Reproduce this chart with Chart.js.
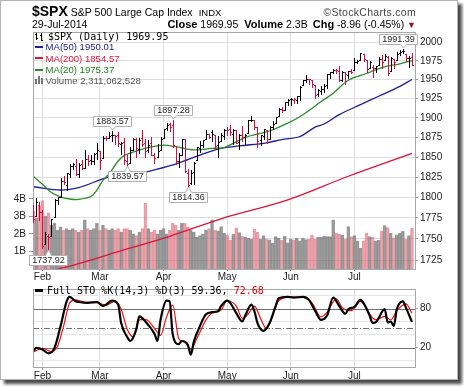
<!DOCTYPE html>
<html>
<head>
<meta charset="utf-8">
<script src="https://cdn.jsdelivr.net/npm/chart.js"></script>
<style>
  body { margin: 0; background: #fff; font-family: "Liberation Sans", Arial, sans-serif; }
  #frame { position: absolute; left: 0; top: 0; width: 456px; height: 378px; border: 1px solid #b4b4b4; box-shadow: 4px 4px 3px #4a4a4a; background: #fff; }
  canvas { position: absolute; left: 0; }
  #priceCanvas { top: 0; }
  #stoCanvas { top: 281px; }
  .txt { position: absolute; white-space: nowrap; color: #000; z-index: 5; }
  .mono { font-family: "DejaVu Sans Mono", monospace; font-size: 10px; line-height: 10px; }
  .leg { font-size: 9.6px; line-height: 9.6px; }
  .mark { position: absolute; z-index: 5; }
</style>
</head>
<body>
<div id="frame"></div>
<canvas id="priceCanvas" width="457" height="285"></canvas>
<canvas id="stoCanvas" width="457" height="99"></canvas>

<!-- header -->
<div class="txt" style="left:32px; top:3px; line-height:16px;">
  <span style="font-weight:bold; font-size:14px;">$SPX</span><span style="font-size:10.5px; margin-left:3px;">S&amp;P 500 Large Cap Index</span><span style="font-size:9.5px; margin-left:6px;">INDX</span>
</div>
<div class="txt" style="left:290px; width:126px; top:4px; text-align:right; font-size:10.5px; line-height:16px; color:#444; letter-spacing:0.3px;">&copy;StockCharts.com</div>
<div class="txt" id="dateTxt" style="left:32px; top:18px; font-size:10.5px; line-height:12px;"></div>
<div class="txt" style="left:140px; width:276px; top:18px; text-align:right; font-size:10.5px; line-height:12px;">
  <b style="font-size:11px;">Close</b> <span id="closeTxt"></span><b style="font-size:11px; margin-left:6px;">Volume</b> <span id="volTxt"></span><b style="font-size:11px; margin-left:5px;">Chg</b> <span id="chgTxt"></span> <span style="color:#8b1a1a; font-size:9px;">&#9660;</span>
</div>

<!-- price panel legend -->
<div class="mark" style="left:36px; top:33px; width:1px; height:7px; background:#000;"></div>
<div class="mark" style="left:35px; top:34px; width:1px; height:1px; background:#000;"></div>
<div class="mark" style="left:37px; top:38px; width:1px; height:1px; background:#000;"></div>
<div class="mark" style="left:41px; top:33px; width:1px; height:8px; background:#000;"></div>
<div class="mark" style="left:40px; top:35px; width:1px; height:1px; background:#000;"></div>
<div class="mark" style="left:42px; top:40px; width:1px; height:1px; background:#000;"></div>
<div class="txt mono" id="spxLeg" style="left:48px; top:31.7px;"></div>

<div class="mark" style="left:35px; top:46px; width:8px; height:2px; background:#1f1f99;"></div>
<div class="txt leg" id="ma50Leg" style="left:45.5px; top:42.3px; color:#1a1a8a;"></div>
<div class="mark" style="left:35px; top:57px; width:8px; height:2px; background:#dc143c;"></div>
<div class="txt leg" id="ma200Leg" style="left:45.5px; top:53.6px; color:#dc143c;"></div>
<div class="mark" style="left:35px; top:68.5px; width:8px; height:2px; background:#2a8c2a;"></div>
<div class="txt leg" id="ma20Leg" style="left:45.5px; top:64.8px; color:#1e7b1e;"></div>
<div class="mark" style="left:35px; top:79px; width:2px; height:5px; background:#777;"></div>
<div class="mark" style="left:38px; top:76px; width:2px; height:8px; background:#777;"></div>
<div class="mark" style="left:41px; top:78px; width:2px; height:6px; background:#777;"></div>
<div class="txt leg" id="volLeg" style="left:45.5px; top:75.8px; color:#555;"></div>

<!-- stochastic legend -->
<div class="mark" style="left:35px; top:289px; width:8px; height:3px; background:#000;"></div>
<div class="txt mono" style="left:47px; top:285.7px;">Full STO %K(14,3) %D(3) <span id="kTxt"></span>, <span id="dTxt" style="color:#e00000;"></span></div>

<script>
// trading days shown, Jan 29 2014 .. Jul 29 2014
const months = ['Jan', 'Feb', 'Mar', 'Apr', 'May', 'Jun', 'Jul'];
const tradingDays = [
  [29, 30, 31],
  [3, 4, 5, 6, 7, 10, 11, 12, 13, 14, 18, 19, 20, 21, 24, 25, 26, 27, 28],
  [3, 4, 5, 6, 7, 10, 11, 12, 13, 14, 17, 18, 19, 20, 21, 24, 25, 26, 27, 28, 31],
  [1, 2, 3, 4, 7, 8, 9, 10, 11, 14, 15, 16, 17, 21, 22, 23, 24, 25, 28, 29, 30],
  [1, 2, 5, 6, 7, 8, 9, 12, 13, 14, 15, 16, 19, 20, 21, 22, 23, 27, 28, 29, 30],
  [2, 3, 4, 5, 6, 9, 10, 11, 12, 13, 16, 17, 18, 19, 20, 23, 24, 25, 26, 27, 30],
  [1, 2, 3, 7, 8, 9, 10, 11, 14, 15, 16, 17, 18, 21, 22, 23, 24, 25, 28, 29]
];

const priorClose = 1792.50; // Jan 28 close, colours the first bar

const opens = [
  1790.15, 1777.17, 1790.88,
  1782.68, 1743.82, 1753.38, 1752.99, 1776.01, 1796.20, 1800.45, 1820.12, 1814.82, 1828.46, 1839.03, 1838.22, 1829.24, 1841.07, 1836.78, 1847.66, 1845.79, 1844.90, 1855.12,
  1857.68, 1849.23, 1874.05, 1874.18, 1878.52, 1877.86, 1878.26, 1866.15, 1869.06, 1845.07, 1842.81, 1858.92, 1872.25, 1860.09, 1874.53, 1867.67, 1859.48, 1867.09, 1852.11, 1850.07, 1859.16,
  1873.96, 1886.61, 1891.43, 1890.25, 1863.92, 1845.48, 1852.64, 1872.28, 1830.65, 1818.18, 1831.45, 1846.01, 1861.73, 1865.79, 1872.57, 1879.32, 1881.97, 1877.72, 1865.00, 1870.78, 1877.10,
  1884.39, 1885.30, 1879.45, 1883.69, 1868.53, 1877.39, 1875.27, 1880.03, 1896.75, 1897.13, 1888.16, 1871.19, 1876.66, 1884.88, 1873.34, 1888.19, 1893.32, 1902.01, 1911.77, 1910.60, 1920.33,
  1923.87, 1923.07, 1923.06, 1928.52, 1942.41, 1948.97, 1950.34, 1949.37, 1943.35, 1930.80, 1934.84, 1937.15, 1942.73, 1957.50, 1960.45, 1962.92, 1961.97, 1949.27, 1959.89, 1956.56, 1960.79,
  1962.29, 1973.06, 1975.88, 1984.22, 1976.39, 1965.10, 1966.67, 1965.76, 1969.86, 1977.36, 1976.35, 1979.75, 1961.54, 1976.93, 1975.65, 1985.32, 1988.07, 1984.60, 1978.25, 1980.03
];
const highs = [
  1790.15, 1798.77, 1793.88,
  1784.83, 1758.73, 1755.79, 1774.06, 1798.03, 1799.94, 1823.54, 1826.55, 1830.25, 1841.65, 1842.87, 1847.50, 1842.79, 1846.13, 1858.71, 1852.91, 1852.65, 1854.53, 1867.92,
  1857.68, 1876.23, 1876.53, 1881.94, 1883.57, 1877.87, 1882.35, 1868.38, 1874.40, 1852.44, 1862.30, 1873.76, 1874.14, 1873.49, 1883.97, 1873.34, 1871.87, 1875.92, 1855.55, 1866.63, 1875.18,
  1885.84, 1893.17, 1893.80, 1897.28, 1864.04, 1854.95, 1872.43, 1872.53, 1835.07, 1834.19, 1844.02, 1862.31, 1869.63, 1871.89, 1884.89, 1879.75, 1884.06, 1877.72, 1877.01, 1880.60, 1885.20,
  1888.59, 1891.33, 1885.51, 1883.69, 1878.83, 1889.07, 1878.57, 1897.13, 1902.17, 1897.13, 1888.16, 1878.28, 1886.00, 1884.88, 1888.80, 1896.33, 1901.26, 1912.28, 1914.46, 1920.03, 1924.03,
  1925.88, 1925.07, 1928.63, 1941.74, 1949.44, 1955.55, 1950.86, 1949.37, 1943.35, 1937.30, 1941.15, 1943.69, 1957.74, 1959.87, 1963.91, 1963.74, 1968.17, 1960.83, 1959.89, 1961.47, 1964.24,
  1978.58, 1976.67, 1985.59, 1984.22, 1976.39, 1974.15, 1969.84, 1968.67, 1979.85, 1982.52, 1983.94, 1981.80, 1979.91, 1976.93, 1986.24, 1989.23, 1991.39, 1984.60, 1981.52, 1984.85
];
const lows = [
  1770.45, 1777.17, 1772.26,
  1739.66, 1743.82, 1737.92, 1752.99, 1776.01, 1791.83, 1800.41, 1815.97, 1809.22, 1825.59, 1835.01, 1826.99, 1824.58, 1835.60, 1836.78, 1840.19, 1840.66, 1841.13, 1847.67,
  1834.44, 1849.23, 1871.11, 1874.18, 1870.56, 1867.04, 1863.88, 1854.38, 1841.86, 1839.57, 1842.81, 1858.92, 1850.35, 1854.63, 1863.46, 1849.69, 1855.96, 1852.56, 1842.11, 1850.07, 1859.16,
  1873.96, 1883.79, 1882.65, 1863.26, 1841.48, 1837.49, 1852.38, 1830.87, 1814.36, 1815.80, 1816.29, 1846.01, 1856.72, 1863.18, 1872.57, 1873.91, 1870.24, 1859.70, 1850.61, 1870.78, 1872.69,
  1878.04, 1878.50, 1866.77, 1867.72, 1859.79, 1870.05, 1867.02, 1880.03, 1896.06, 1885.77, 1862.36, 1864.82, 1872.42, 1868.14, 1873.34, 1885.39, 1893.32, 1902.01, 1907.30, 1909.82, 1915.98,
  1915.98, 1918.79, 1918.60, 1922.93, 1942.41, 1947.16, 1944.64, 1940.08, 1925.78, 1927.69, 1930.91, 1933.55, 1939.29, 1952.26, 1959.17, 1958.89, 1948.34, 1947.49, 1944.69, 1952.18, 1958.22,
  1962.29, 1972.58, 1975.88, 1974.88, 1959.46, 1965.10, 1952.86, 1959.63, 1969.86, 1965.34, 1975.67, 1955.59, 1960.82, 1965.77, 1975.65, 1982.44, 1985.79, 1974.37, 1967.31, 1969.95
];
const closes = [
  1774.20, 1794.19, 1782.59,
  1741.89, 1755.20, 1751.64, 1773.43, 1797.02, 1799.84, 1819.75, 1819.26, 1829.83, 1838.63, 1840.76, 1828.75, 1839.78, 1836.25, 1847.61, 1845.12, 1845.16, 1854.29, 1859.45,
  1845.73, 1873.91, 1873.81, 1877.03, 1878.04, 1877.17, 1867.63, 1868.20, 1846.34, 1841.13, 1858.83, 1872.25, 1860.77, 1872.01, 1866.52, 1857.44, 1865.62, 1852.56, 1849.04, 1857.62, 1872.34,
  1885.52, 1890.90, 1888.77, 1865.09, 1845.04, 1851.96, 1872.18, 1833.08, 1815.69, 1830.61, 1842.98, 1862.31, 1864.85, 1871.89, 1879.55, 1875.39, 1878.61, 1863.40, 1869.43, 1878.33, 1883.95,
  1883.68, 1881.14, 1884.66, 1867.72, 1878.21, 1875.63, 1878.48, 1896.65, 1897.45, 1888.53, 1870.85, 1877.86, 1885.08, 1872.83, 1888.03, 1892.49, 1900.53, 1911.91, 1909.78, 1920.03, 1923.57,
  1924.97, 1924.24, 1927.88, 1940.46, 1949.44, 1951.27, 1950.79, 1943.89, 1930.11, 1936.16, 1937.78, 1941.99, 1956.98, 1959.48, 1962.87, 1962.61, 1949.98, 1959.53, 1957.22, 1960.96, 1960.23,
  1973.32, 1974.62, 1985.44, 1977.65, 1963.71, 1972.83, 1964.68, 1967.57, 1977.10, 1973.28, 1981.57, 1958.12, 1978.22, 1973.63, 1983.53, 1987.01, 1987.98, 1978.34, 1978.91, 1969.95
];
// volume in billions of shares
const volumes = [
  3.3, 2.9, 3.6,
  3.9, 3.0, 3.2, 2.5, 2.6, 2.2, 2.4, 2.2, 2.3, 2.2, 2.3, 2.2, 2.1, 2.2, 2.8, 2.3, 2.2, 2.3, 2.6,
  2.2, 2.5, 2.3, 2.2, 2.3, 2.2, 2.3, 2.1, 2.3, 2.3, 2.2, 2.0, 1.9, 2.1, 2.3, 3.75, 2.3, 2.1, 2.2, 2.0, 2.2,
  2.3, 2.0, 2.2, 2.6, 2.5, 2.2, 2.6, 2.6, 2.4, 2.2, 2.1, 1.8, 1.9, 2.0, 2.2, 2.3, 2.8, 2.2, 2.18, 2.41, 2.05,
  1.95, 1.64, 1.99, 2.34, 2.07, 1.86, 1.80, 1.76, 1.70, 2.28, 2.09, 1.70, 1.90, 1.70, 1.66, 1.46, 1.84, 1.76, 1.64, 1.86, 1.49,
  1.70, 1.64, 1.76, 1.61, 1.76, 1.68, 1.70, 1.93, 1.70, 1.80, 1.80, 1.87, 1.84, 1.84, 2.80, 2.03, 1.99, 1.93, 1.70, 2.41, 1.84,
  1.90, 1.61, 1.19, 1.61, 2.05, 1.84, 1.80, 1.61, 1.64, 2.18, 2.47, 2.36, 2.03, 1.76, 1.95, 2.03, 2.14, 1.70, 1.90, 2.311062528
];

// moving averages (day index, value)
const ma20Day = [0, 3, 6, 9, 12, 15, 19, 21, 23, 25, 28, 30, 32, 37, 43, 47, 53, 59, 63, 70, 75, 78, 84, 89, 95, 99, 104, 110, 115, 121, 125];
const ma20Val = [1826, 1816, 1806, 1800.5, 1798, 1797.5, 1801, 1809, 1821, 1829, 1845, 1852, 1855, 1861, 1865, 1863, 1859, 1861, 1862, 1875, 1880, 1883, 1893, 1904, 1921, 1932, 1949, 1958, 1966, 1971, 1975.37];
const ma50Day = [0, 9, 15, 25, 32, 40, 48, 55, 62, 68, 77, 82, 88, 93, 96, 101, 108, 114, 121, 125];
const ma50Val = [1813, 1809, 1812, 1825, 1827, 1834, 1842.5, 1852.5, 1861, 1864, 1868, 1872, 1876, 1888, 1892, 1904, 1917, 1928, 1941, 1950.01];
const ma200Day = [0, 10, 31, 45, 62, 84, 104, 125];
const ma200Val = [1709, 1716, 1738, 1753, 1774, 1797, 1826, 1854.57];

// full stochastics
const stoKDay = [0, 1, 3, 5, 7, 9, 11, 12, 14, 15, 18, 21, 23, 24, 26, 28, 29, 31, 32, 34, 35, 37, 40, 41, 42, 44, 45, 46, 48, 49, 51, 52, 53, 55, 57, 59, 61, 62, 64, 65, 67, 69, 70, 72, 73, 74, 76, 78, 80, 81, 84, 86, 89, 91, 93, 95, 97, 99, 101, 103, 104, 106, 108, 109, 111, 112, 113, 116, 117, 118, 119, 120, 122, 123, 125];
const stoKVal = [14.8, 19.5, 17.1, 11, 19.5, 52.9, 91, 98, 91, 90, 88.6, 90, 83.8, 86, 92, 86, 57.6, 36.2, 30, 48, 68, 60, 41, 30, 62.4, 92, 91, 41, 25, 30, 24.3, 9, 29, 52.9, 71, 74.3, 75.7, 83.8, 92, 88.6, 72.9, 60, 69.5, 86, 75.7, 57.6, 45.7, 57.6, 83.8, 95.7, 98, 96.7, 98, 93.3, 76.7, 62.4, 69.5, 96.7, 83.8, 71.9, 79, 82.4, 93.3, 88.6, 69.5, 57.6, 58.6, 79, 58.6, 60, 52.9, 79, 91, 81.4, 59.36];
const stoDDay = [0, 3, 6, 8, 10, 12, 14, 17, 21, 24, 27, 29, 31, 33, 35, 37, 41, 42, 44, 46, 48, 50, 52, 54, 57, 59, 62, 64, 67, 69, 71, 73, 75, 77, 79, 81, 85, 89, 92, 95, 97, 100, 102, 105, 108, 111, 113, 116, 118, 120, 123, 125];
const stoDVal = [13.3, 18.6, 13.8, 21.9, 52.9, 88.6, 93.3, 90, 89, 85.2, 91, 79, 48, 36.2, 62.4, 63.3, 43.3, 38.6, 67.1, 85.2, 33.8, 28.1, 17.1, 33.8, 62.4, 72.9, 77.6, 91.9, 83.8, 64.8, 71.9, 83.8, 64.8, 49, 69.5, 91.9, 98, 97.6, 88.6, 67.1, 74.3, 94.8, 81.4, 76.7, 91, 71.9, 62.4, 68, 62.4, 76.7, 87.1, 72.68];

// axis ticks
const priceTicks = [1725, 1750, 1775, 1800, 1825, 1850, 1875, 1900, 1925, 1950, 1975, 2000];
const volTicks = [1, 2, 3, 4];
const stoLevels = [20, 50, 80];

// swing points labelled on the chart (day index)
const highLabels = [26, 46, 122];
const lowLabels = [5, 31, 51];

// ---------------------------------------------------------------

const upColor = '#000000';
const downColor = '#dc0a3c';
const axisFont = { family: '"Liberation Sans", Arial, sans-serif', size: 10 };
const gridColor = '#dedede';

const monthTicks = [];
const monthNames = {};
let n = 0;
tradingDays.forEach((days, k) => {
  if (k > 0) { monthTicks.push(n); monthNames[n] = months[k]; }
  n += days.length;
});

const upDay = closes.map((c, i) => c >= (i === 0 ? priorClose : closes[i - 1]));
const pairs = (days, vals) => days.map((d, k) => ({ x: d, y: vals[k] }));
const last = a => a[a.length - 1];

// header / legend text
const lastClose = last(closes), prevClose = closes[closes.length - 2];
const chg = lastClose - prevClose;
document.getElementById('dateTxt').textContent = last(tradingDays[6]) + '-Jul-2014';
document.getElementById('closeTxt').textContent = lastClose.toFixed(2);
document.getElementById('volTxt').textContent = last(volumes).toFixed(1) + 'B';
document.getElementById('chgTxt').textContent = chg.toFixed(2) + ' (' + (chg / prevClose * 100).toFixed(2) + '%)';
document.getElementById('spxLeg').textContent = '$SPX (Daily) ' + lastClose.toFixed(2);
document.getElementById('ma50Leg').textContent = 'MA(50) ' + last(ma50Val).toFixed(2);
document.getElementById('ma200Leg').textContent = 'MA(200) ' + last(ma200Val).toFixed(2);
document.getElementById('ma20Leg').textContent = 'MA(20) ' + last(ma20Val).toFixed(2);
document.getElementById('volLeg').textContent = 'Volume ' + Math.round(last(volumes) * 1e9).toLocaleString('en-US');
document.getElementById('kTxt').textContent = last(stoKVal).toFixed(2);
document.getElementById('dTxt').textContent = last(stoDVal).toFixed(2);

// panel border
const panelBorder = {
  id: 'panelBorder',
  afterDatasetsDraw(chart) {
    const { ctx, chartArea: a } = chart;
    ctx.save();
    ctx.strokeStyle = '#a8a8a8';
    ctx.lineWidth = 1;
    ctx.strokeRect(Math.floor(a.left) + 0.5, Math.floor(a.top) + 0.5, Math.round(a.right - a.left), Math.round(a.bottom - a.top));
    ctx.restore();
  }
};

// open-high-low-close bars
const ohlcBars = {
  id: 'ohlcBars',
  afterDatasetsDraw(chart) {
    const { ctx, chartArea: a, scales: { x, price } } = chart;
    ctx.save();
    ctx.beginPath();
    ctx.rect(a.left, a.top, a.right - a.left, a.bottom - a.top);
    ctx.clip();
    ctx.lineWidth = 1;
    closes.forEach((c, i) => {
      const px = Math.round(x.getPixelForValue(i));
      const yh = Math.round(price.getPixelForValue(highs[i]));
      const yl = Math.round(price.getPixelForValue(lows[i]));
      const yo = Math.round(price.getPixelForValue(opens[i])) + 0.5;
      const yc = Math.round(price.getPixelForValue(c)) + 0.5;
      ctx.strokeStyle = upDay[i] ? upColor : downColor;
      ctx.beginPath();
      ctx.moveTo(px + 0.5, yh);
      ctx.lineTo(px + 0.5, yl + 1);
      ctx.moveTo(px - 1, yo);
      ctx.lineTo(px, yo);
      ctx.moveTo(px + 1, yc);
      ctx.lineTo(px + 2, yc);
      ctx.stroke();
    });
    ctx.restore();
  }
};

// value boxes at swing highs and lows
const callouts = {
  id: 'callouts',
  afterDatasetsDraw(chart) {
    const { ctx, chartArea: a, scales: { x, price } } = chart;
    ctx.save();
    ctx.font = '9px "Liberation Sans", Arial, sans-serif';
    ctx.textAlign = 'center';
    ctx.textBaseline = 'middle';
    ctx.lineWidth = 1;
    const draw = (i, val, above) => {
      const px = Math.round(x.getPixelForValue(i)) + 0.5;
      const py = Math.round(price.getPixelForValue(val));
      const label = val.toFixed(2);
      const w = Math.round(ctx.measureText(label).width) + 5;
      const h = 10;
      let left = Math.round(px - 1 - w / 2) + 0.5;
      if (left + w > a.right + 2) left = Math.round(a.right + 2 - w) + 0.5;
      const top = above ? py - 5 - h + 0.5 : py + 6.5;
      const bottom = top + h;
      ctx.beginPath();
      ctx.moveTo(left, top);
      if (!above) { ctx.lineTo(px - 3, top); ctx.lineTo(px, py + 1); ctx.lineTo(px + 3, top); }
      ctx.lineTo(left + w, top);
      ctx.lineTo(left + w, bottom);
      if (above) { ctx.lineTo(px + 3, bottom); ctx.lineTo(px, py - 1); ctx.lineTo(px - 3, bottom); }
      ctx.lineTo(left, bottom);
      ctx.closePath();
      ctx.fillStyle = '#ffffff';
      ctx.fill();
      ctx.strokeStyle = '#b0b0b0';
      ctx.stroke();
      ctx.fillStyle = '#222';
      ctx.fillText(label, left + w / 2, top + h / 2 + 0.5);
    };
    highLabels.forEach(i => draw(i, highs[i], true));
    lowLabels.forEach(i => draw(i, lows[i], false));
    ctx.restore();
  }
};

// 20 / 50 / 80 guide lines of the stochastic panel
const stoGuides = {
  id: 'stoGuides',
  beforeDatasetsDraw(chart) {
    const { ctx, chartArea: a, scales: { y } } = chart;
    ctx.save();
    ctx.strokeStyle = '#707070';
    ctx.lineWidth = 1;
    stoLevels.forEach(v => {
      const py = Math.round(y.getPixelForValue(v)) + 0.5;
      ctx.setLineDash(v === 50 ? [6, 2, 1, 2] : []);
      ctx.beginPath();
      ctx.moveTo(a.left, py);
      ctx.lineTo(a.right, py);
      ctx.stroke();
    });
    ctx.restore();
  }
};

const monthAxis = (height, tickLen, pad) => ({
  type: 'linear',
  min: -0.1,
  max: 126,
  offset: false,
  afterBuildTicks: s => { s.ticks = monthTicks.map(v => ({ value: v })); },
  afterFit: s => { s.height = height; },
  ticks: { callback: v => monthNames[v] || '', font: axisFont, color: '#222', padding: pad, maxRotation: 0, autoSkip: false },
  grid: { color: gridColor, offset: false, tickLength: tickLen, tickColor: '#999' },
  border: { display: false }
});

// price panel
new Chart(document.getElementById('priceCanvas'), {
  type: 'bar',
  data: {
    datasets: [
      {
        type: 'line', label: 'MA(20)', yAxisID: 'price', data: pairs(ma20Day, ma20Val),
        borderColor: '#2a8c2a', borderWidth: 1.3, pointRadius: 0, tension: 0.35, order: 3
      },
      {
        type: 'line', label: 'MA(50)', yAxisID: 'price', data: pairs(ma50Day, ma50Val),
        borderColor: '#1f1f99', borderWidth: 1.3, pointRadius: 0, tension: 0.35, order: 4
      },
      {
        type: 'line', label: 'MA(200)', yAxisID: 'price', data: pairs(ma200Day, ma200Val),
        borderColor: '#dc143c', borderWidth: 1.3, pointRadius: 0, tension: 0.35, order: 5
      },
      {
        type: 'bar', label: 'Volume', yAxisID: 'vol',
        data: volumes.map((v, i) => ({ x: i, y: v })),
        backgroundColor: upDay.map(u => u ? 'rgba(125,125,125,0.5)' : 'rgba(232,125,135,0.42)'),
        borderColor: upDay.map(u => u ? 'rgba(105,105,105,0.65)' : 'rgba(215,70,90,0.5)'),
        borderWidth: 1, barThickness: 3, order: 9
      }
    ]
  },
  options: {
    responsive: false,
    animation: false,
    layout: { padding: { top: 32, left: 0, right: 0, bottom: 0 } },
    plugins: { legend: { display: false }, tooltip: { enabled: false } },
    scales: {
      x: monthAxis(16, 2, 0),
      price: {
        type: 'logarithmic',
        position: 'right',
        min: 1714.5,
        max: 2014,
        afterBuildTicks: s => { s.ticks = priceTicks.map(v => ({ value: v })); },
        afterFit: s => { s.width = 42; },
        ticks: { callback: v => String(v), font: axisFont, color: '#222', padding: 2 },
        grid: { color: gridColor, tickLength: 3, tickColor: '#999' },
        border: { display: false }
      },
      vol: {
        type: 'linear',
        position: 'left',
        min: 0,
        max: 13.5,
        afterBuildTicks: s => { s.ticks = volTicks.map(v => ({ value: v })); },
        afterFit: s => { s.width = 33; },
        ticks: { callback: v => v + 'B', font: axisFont, color: '#222', padding: 3 },
        grid: { drawOnChartArea: false, tickLength: 4, tickColor: '#999' },
        border: { display: false }
      }
    }
  },
  plugins: [panelBorder, ohlcBars, callouts]
});

// stochastic panel
new Chart(document.getElementById('stoCanvas'), {
  type: 'line',
  data: {
    datasets: [
      {
        label: '%D', data: pairs(stoDDay, stoDVal), borderColor: '#ee1111', borderWidth: 1.2,
        pointRadius: 0, cubicInterpolationMode: 'monotone', order: 2
      },
      {
        label: '%K', data: pairs(stoKDay, stoKVal), borderColor: '#000000', borderWidth: 2.2,
        pointRadius: 0, cubicInterpolationMode: 'monotone', order: 1
      }
    ]
  },
  options: {
    responsive: false,
    animation: false,
    layout: { padding: { top: 2, left: 33, right: 0, bottom: 0 } },
    plugins: { legend: { display: false }, tooltip: { enabled: false } },
    scales: {
      x: monthAxis(13, 3, 0),
      y: {
        position: 'right',
        min: -10,
        max: 110,
        afterBuildTicks: s => { s.ticks = [0, 10, 20, 30, 40, 50, 60, 70, 80, 90, 100].map(v => ({ value: v })); },
        afterFit: s => { s.width = 42; },
        ticks: { callback: v => stoLevels.includes(v) ? String(v) : '', font: axisFont, color: '#222', padding: 2 },
        grid: {
          color: c => stoLevels.includes(c.tick.value) ? 'rgba(0,0,0,0)' : '#e6e6e6',
          tickLength: 3,
          tickColor: c => stoLevels.includes(c.tick.value) ? '#999' : 'rgba(0,0,0,0)'
        },
        border: { display: false }
      }
    }
  },
  plugins: [stoGuides, panelBorder]
});
</script>
</body>
</html>
